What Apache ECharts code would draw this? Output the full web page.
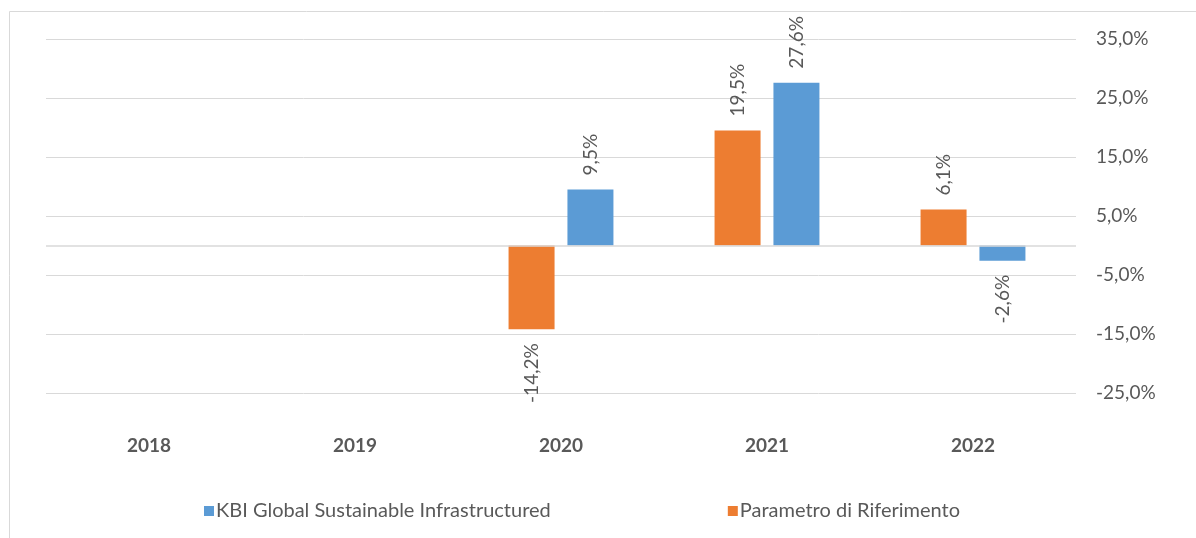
<!DOCTYPE html>
<html><head><meta charset="utf-8">
<script src="https://cdn.jsdelivr.net/npm/echarts@6/dist/echarts.min.js"></script>
<style>html,body{margin:0;padding:0;background:#fff}#c{width:1196px;height:538px}</style>
</head><body><div id="c"></div>
<script>
const categories = ['2018', '2019', '2020', '2021', '2022'];
const fundName = 'KBI Global Sustainable Infrastructured';
const benchName = 'Parametro di Riferimento';
const fundValues = [null, null, 9.5, 27.6, -2.6];
const benchValues = [null, null, -14.2, 19.5, 6.1];
const yTicks = { min: -25, max: 35, interval: 10 };

const fmt = v => v.toFixed(1).replace('.', ',') + '%';
const labelFont = 'Lato, "Open Sans", sans-serif';
function items(arr) {
  return arr.map(v => v === null ? null : {
    value: v,
    label: {
      position: v >= 0 ? 'top' : 'bottom',
      align: v >= 0 ? 'left' : 'right',
      verticalAlign: 'middle'
    }
  });
}
const barLabel = {
  show: true, rotate: 90, distance: 14, color: '#595959',
  fontFamily: labelFont, fontSize: 19,
  formatter: p => fmt(p.value)
};

const chart = echarts.init(document.getElementById('c'), null, {renderer: 'canvas'});
chart.setOption({
  animation: false,
  textStyle: { fontFamily: labelFont },
  graphic: [{
    type: 'rect', silent: true, z: -10,
    shape: { x: 9.5, y: 11.5, width: 1200, height: 540 },
    style: { fill: 'none', stroke: '#d9d9d9', lineWidth: 1 }
  }],
  grid: { left: 46, right: 120, top: 39, bottom: 145 },
  legend: {
    data: [fundName, benchName],
    left: 199, top: 496,
    itemWidth: 10, itemHeight: 10, itemGap: 177,
    icon: 'rect',
    textStyle: { color: '#595959', fontSize: 20, fontFamily: labelFont, padding: [0, 0, 0, -3] }
  },
  xAxis: {
    type: 'category', data: categories,
    axisLine: { show: false, onZero: false },
    axisTick: { show: false },
    axisLabel: { margin: 43, color: '#595959', fontWeight: 'bold', fontSize: 19, fontFamily: labelFont }
  },
  yAxis: {
    type: 'value', position: 'right',
    min: yTicks.min, max: yTicks.max, interval: yTicks.interval,
    axisLine: { show: false }, axisTick: { show: false },
    splitLine: { lineStyle: { color: '#d9d9d9', width: 1 } },
    axisLabel: { margin: 20, color: '#595959', fontSize: 19, fontFamily: labelFont, formatter: v => fmt(v) }
  },
  series: [
    {
      name: benchName, type: 'bar', data: items(benchValues),
      itemStyle: { color: '#ed7d31' },
      barWidth: 46, barGap: '28%',
      label: barLabel,
      markLine: {
        silent: true, symbol: 'none', label: { show: false },
        lineStyle: { color: '#d9d9d9', type: 'solid', width: 1.5 },
        data: [{ yAxis: 0 }]
      }
    },
    {
      name: fundName, type: 'bar', data: items(fundValues),
      itemStyle: { color: '#5b9bd5' },
      barWidth: 46, barGap: '28%',
      label: barLabel
    }
  ]
});
</script></body></html>
